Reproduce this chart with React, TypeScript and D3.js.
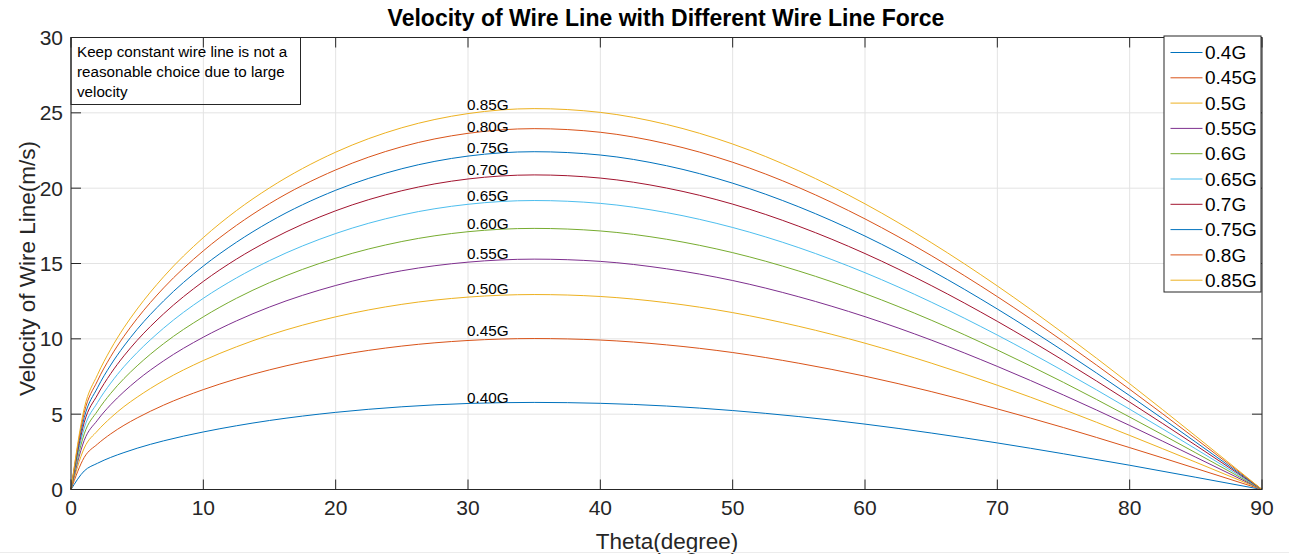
import React from "react";
import * as d3 from "d3";

const thetas = [0, 1, 2, 3, 4, 5, 7, 10, 12.5, 15, 20, 25, 30, 35, 40, 45, 50, 55, 60, 65, 70, 75, 80, 85, 90];

const v040 = [0, 1.23, 1.74, 2.13, 2.45, 2.74, 3.23, 3.82, 4.23, 4.58, 5.12, 5.49, 5.71, 5.78, 5.72, 5.54, 5.24, 4.84, 4.34, 3.75, 3.09, 2.37, 1.61, 0.81, 0];
const v045 = [0, 2.13, 3.01, 3.69, 4.26, 4.75, 5.60, 6.63, 7.34, 7.94, 8.88, 9.52, 9.89, 10.02, 9.92, 9.60, 9.09, 8.38, 7.52, 6.50, 5.35, 4.11, 2.78, 1.40, 0];
const v050 = [0, 2.75, 3.89, 4.76, 5.50, 6.13, 7.23, 8.56, 9.47, 10.25, 11.46, 12.29, 12.77, 12.94, 12.81, 12.40, 11.74, 10.83, 9.71, 8.39, 6.92, 5.31, 3.59, 1.81, 0];
const v055 = [0, 3.26, 4.60, 5.63, 6.49, 7.25, 8.54, 10.11, 11.19, 12.11, 13.54, 14.52, 15.09, 15.29, 15.14, 14.65, 13.87, 12.79, 11.47, 9.92, 8.17, 6.27, 4.25, 2.14, 0];
const v060 = [0, 3.69, 5.21, 6.38, 7.36, 8.21, 9.68, 11.46, 12.69, 13.73, 15.35, 16.46, 17.11, 17.33, 17.16, 16.61, 15.72, 14.50, 13.00, 11.24, 9.26, 7.11, 4.81, 2.43, 0];
const v065 = [0, 4.08, 5.77, 7.06, 8.15, 9.09, 10.71, 12.69, 14.04, 15.19, 16.99, 18.22, 18.93, 19.18, 18.99, 18.38, 17.39, 16.05, 14.39, 12.44, 10.25, 7.86, 5.33, 2.69, 0];
const v070 = [0, 4.45, 6.28, 7.69, 8.87, 9.90, 11.66, 13.81, 15.29, 16.54, 18.50, 19.83, 20.61, 20.88, 20.67, 20.01, 18.94, 17.47, 15.66, 13.54, 11.16, 8.56, 5.80, 2.93, 0];
const v075 = [0, 4.77, 6.75, 8.26, 9.52, 10.63, 12.52, 14.83, 16.41, 17.76, 19.86, 21.29, 22.13, 22.42, 22.20, 21.49, 20.33, 18.76, 16.82, 14.54, 11.98, 9.19, 6.23, 3.14, 0];
const v080 = [0, 5.10, 7.21, 8.82, 10.17, 11.35, 13.38, 15.84, 17.53, 18.97, 21.21, 22.75, 23.64, 23.95, 23.71, 22.95, 21.72, 20.04, 17.96, 15.53, 12.80, 9.82, 6.65, 3.36, 0];
const v085 = [0, 5.38, 7.61, 9.31, 10.74, 11.98, 14.12, 16.72, 18.51, 20.02, 22.39, 24.01, 24.95, 25.28, 25.03, 24.23, 22.93, 21.15, 18.96, 16.39, 13.51, 10.36, 7.02, 3.54, 0];

const seriesValues = [v040, v045, v050, v055, v060, v065, v070, v075, v080, v085];
const legendNames = ["0.4G", "0.45G", "0.5G", "0.55G", "0.6G", "0.65G", "0.7G", "0.75G", "0.8G", "0.85G"];
const curveLabels = ["0.40G", "0.45G", "0.50G", "0.55G", "0.60G", "0.65G", "0.70G", "0.75G", "0.80G", "0.85G"];
const labelX = [30, 30, 30, 30, 30, 30, 30, 30, 30, 30];
const labelY = [6.1, 10.53, 13.36, 15.65, 17.64, 19.5, 21.23, 22.69, 24.09, 25.55];
const colors = ["#0072BD", "#D95319", "#EDB120", "#7E2F8E", "#77AC30", "#4DBEEE", "#A2142F", "#0072BD", "#D95319", "#EDB120"];

const xTicks = [0, 10, 20, 30, 40, 50, 60, 70, 80, 90];
const yTicks = [0, 5, 10, 15, 20, 25, 30];

const title = "Velocity of Wire Line with Different Wire Line Force";
const xLabel = "Theta(degree)";
const yLabel = "Velocity of Wire Line(m/s)";
const noteLines = ["Keep constant wire line is not a", "reasonable choice due to large", "velocity"];

const W = 1289;
const H = 556;
const L = 71;
const R = 1262;
const T = 37.5;
const B = 489.5;
const FONT = "'Liberation Sans', Arial, Helvetica, sans-serif";
const AX = "#262626";
const GRID = "#e3e3e3";

export default function App() {
  const x = d3.scaleLinear().domain([0, 90]).range([L, R]);
  const y = d3.scaleLinear().domain([0, 30]).range([B, T]);
  const line = d3
    .line<[number, number]>()
    .x((d) => x(d[0]))
    .y((d) => y(d[1]))
    .curve(d3.curveMonotoneX);

  const tickLen = 10;
  const legX = 1164;
  const legY = 36;
  const legW = 97;
  const legStep = 25.3;
  const legH = 256;

  return (
    <svg
      width={W}
      height={H}
      style={{ position: "absolute", left: 0, top: 0, background: "#fff" }}
      fontFamily={FONT}
    >
      <rect x={0} y={0} width={W} height={H} fill="#fff" />
      {xTicks.map((t) => (
        <line key={"gx" + t} x1={x(t)} x2={x(t)} y1={T} y2={B} stroke={GRID} strokeWidth={1} />
      ))}
      {yTicks.map((t) => (
        <line key={"gy" + t} x1={L} x2={R} y1={y(t)} y2={y(t)} stroke={GRID} strokeWidth={1} />
      ))}
      {seriesValues.map((vals, i) => (
        <path
          key={"s" + i}
          d={line(thetas.map((t, j) => [t, vals[j]] as [number, number])) || ""}
          fill="none"
          stroke={colors[i]}
          strokeWidth={1}
        />
      ))}
      {curveLabels.map((lab, i) => (
        <text
          key={"cl" + i}
          x={x(labelX[i]) - 1}
          y={y(labelY[i])}
          dy="0.35em"
          fontSize={15.3}
          fill="#000"
        >
          {lab}
        </text>
      ))}
      <rect x={L} y={T} width={R - L} height={B - T} fill="none" stroke={AX} strokeWidth={1} />
      {xTicks.map((t) => (
        <g key={"xt" + t}>
          <line x1={x(t)} x2={x(t)} y1={B} y2={B - tickLen} stroke={AX} />
          <line x1={x(t)} x2={x(t)} y1={T} y2={T + tickLen} stroke={AX} />
          <text x={x(t)} y={B + 25} textAnchor="middle" fontSize={21} fill={AX}>
            {t}
          </text>
        </g>
      ))}
      {yTicks.map((t) => (
        <g key={"yt" + t}>
          <line x1={L} x2={L + tickLen} y1={y(t)} y2={y(t)} stroke={AX} />
          <line x1={R} x2={R - tickLen} y1={y(t)} y2={y(t)} stroke={AX} />
          <text x={L - 8} y={y(t)} dy="0.35em" textAnchor="end" fontSize={21} fill={AX}>
            {t}
          </text>
        </g>
      ))}
      <text x={667} y={549} textAnchor="middle" fontSize={22.5} fill={AX}>
        {xLabel}
      </text>
      <text
        transform={`translate(35,${(T + B) / 2 + 5}) rotate(-90)`}
        textAnchor="middle"
        fontSize={22.5}
        fill={AX}
      >
        {yLabel}
      </text>
      <text x={666} y={26} textAnchor="middle" fontSize={23} fontWeight="bold" fill="#000">
        {title}
      </text>
      <rect x={71} y={37.5} width={229.5} height={67} fill="none" stroke={AX} strokeWidth={1} />
      {noteLines.map((s, i) => (
        <text key={"n" + i} x={77} y={57 + i * 20} fontSize={15.2} fill="#000">
          {s}
        </text>
      ))}
      <rect x={legX} y={legY} width={legW} height={legH} fill="#fff" stroke={AX} strokeWidth={1} />
      {legendNames.map((n, i) => (
        <g key={"lg" + i}>
          <line
            x1={legX + 6.5}
            x2={legX + 38.5}
            y1={legY + 16.5 + i * legStep}
            y2={legY + 16.5 + i * legStep}
            stroke={colors[i]}
            strokeWidth={1}
          />
          <text x={legX + 41} y={legY + 16.5 + i * legStep} dy="0.35em" fontSize={19} fill="#000">
            {n}
          </text>
        </g>
      ))}
      <line x1={0} x2={W} y1={552.5} y2={552.5} stroke="#ececec" strokeWidth={1} />
    </svg>
  );
}
